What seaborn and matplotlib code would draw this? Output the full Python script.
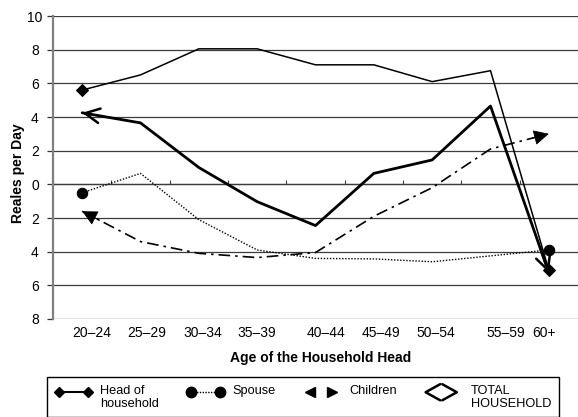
import numpy as np
import pandas as pd
import matplotlib
matplotlib.use("Agg")
import matplotlib.pyplot as plt
import seaborn as sns
from matplotlib.lines import Line2D
from matplotlib.transforms import Affine2D
from matplotlib.legend_handler import HandlerBase, HandlerLine2D

# ---- data ----
ages = ["20–24", "25–29", "30–34", "35–39", "40–44", "45–49", "50–54", "55–59", "60+"]
head = [5.6, 6.5, 8.05, 8.05, 7.1, 7.1, 6.1, 6.75, -5.1]
spouse = [-0.5, 0.65, -2.1, -3.9, -4.4, -4.43, -4.6, -4.25, -3.9]
children = [-1.6, -3.4, -4.1, -4.35, -4.05, -1.9, -0.2, 2.1, 3.0]
total = [4.25, 3.65, 1.0, -1.03, -2.45, 0.65, 1.45, 4.65, -5.25]
y_ticks = [10, 8, 6, 4, 2, 0, -2, -4, -6, -8]
y_tick_labels = ["10", "8", "6", "4", "2", "0", "2", "4", "6", "8"]
legend_labels = ["Head of\nhousehold", "Spouse\n", "Children\n", "TOTAL\nHOUSEHOLD"]

# layout: where the category labels sit (in category units)
label_pos = [0.17, 1.11, 2.06, 3.0, 4.18, 5.13, 6.07, 7.27, 7.92]

sns.set_theme(style="white")
plt.rcParams["font.family"] = ["Liberation Sans", "DejaVu Sans"]
plt.rcParams["text.color"] = "black"
plt.rcParams["axes.labelcolor"] = "black"
plt.rcParams["xtick.color"] = "black"
plt.rcParams["ytick.color"] = "black"

fig = plt.figure(figsize=(5.78, 4.17), dpi=100)
ax = fig.add_axes([53 / 578, 1 - 319 / 417, 525 / 578, 303 / 417])

xpos = np.arange(len(ages))
df = pd.DataFrame({"pos": xpos, "age": ages, "head": head, "spouse": spouse,
                   "children": children, "total": total})
n = len(ages)

sns.lineplot(data=df, x="pos", y="head", ax=ax, color="black", lw=1.1,
             marker="D", markevery=[0, n - 1], ms=6, mec="black", mfc="black",
             errorbar=None, zorder=3)
sns.lineplot(data=df, x="pos", y="spouse", ax=ax, color="black", lw=1.0,
             linestyle=(0, (1, 1.2)), marker="o", markevery=[0, n - 1], ms=7.5,
             mec="black", mfc="black", errorbar=None, zorder=3)
sns.lineplot(data=df, x="pos", y="children", ax=ax, color="black", lw=1.2,
             linestyle=(0, (7, 3, 1.5, 3)), errorbar=None, zorder=3)
sns.lineplot(data=df, x="pos", y="total", ax=ax, color="black", lw=2.0,
             errorbar=None, zorder=3)


def arrowhead(xs, ys, idx, nbr, style, f=0.3, **kw):
    x0, y0 = xs[idx], ys[idx]
    x1, y1 = xs[nbr], ys[nbr]
    ax.annotate("", xy=(x0, y0), xytext=(x0 + f * (x1 - x0), y0 + f * (y1 - y0)),
                arrowprops=dict(arrowstyle=style, shrinkA=0, shrinkB=0, color="black", **kw),
                zorder=4)


tri = "-|>,head_length=0.8,head_width=0.4"
arrowhead(xpos, children, 0, 1, tri, mutation_scale=12, lw=0.6)
arrowhead(xpos, children, n - 1, n - 2, tri, mutation_scale=12, lw=0.6)
opn = "->,head_length=0.7,head_width=0.35"
arrowhead(xpos, total, 0, 1, opn, f=0.15, mutation_scale=15, lw=1.8)
arrowhead(xpos, total, n - 1, n - 2, opn, f=0.15, mutation_scale=15, lw=1.8)

# ---- axes styling ----
ymin, ymax = -8, 10
ax.set_xlim(-0.5, n - 0.5)
ax.set_ylim(ymin, ymax)
ax.set_yticks(y_ticks, labels=y_tick_labels)
plt.setp(ax.get_yticklabels(), ha="center")
ax.tick_params(axis="y", direction="out", length=4, width=0.9, color="#333333",
               pad=9, labelsize=10, left=True)
ax.set_xticks(label_pos, labels=ages)
ax.tick_params(axis="x", length=0, pad=5, labelsize=10)
ax.yaxis.grid(True, color="#3c3c3c", lw=0.9)
ax.xaxis.grid(False)
for s in ["top", "right", "bottom"]:
    ax.spines[s].set_visible(False)
ax.spines["left"].set_color("#808080")
ax.spines["left"].set_linewidth(1.6)

sec = ax.secondary_xaxis((0 - ymin) / (ymax - ymin))
sec.set_xticks(np.arange(n + 1) - 0.5)
sec.tick_params(direction="in", length=3, width=0.8, color="#3c3c3c",
                labelbottom=False, labeltop=False)
sec.spines["bottom"].set_color("#3c3c3c")
sec.spines["bottom"].set_linewidth(0.9)

ax.set_xlabel("Age of the Household Head", fontweight="bold", fontsize=10)
ax.xaxis.set_label_coords(0.51, -0.106)
ax.set_ylabel("Reales per Day", fontweight="bold", fontsize=10)
ax.yaxis.set_label_coords(-0.053, 0.482)

# ---- legend ----
DY = 3.6  # lift the legend symbols toward the first text line (points)


class ShiftedLine(HandlerLine2D):
    def create_artists(self, legend, orig_handle, xdescent, ydescent, width,
                       height, fontsize, trans):
        t = Affine2D().translate(0, DY) + trans
        return super().create_artists(legend, orig_handle, xdescent, ydescent,
                                      width, height, fontsize, t)


class TriHandler(HandlerBase):
    def create_artists(self, legend, orig_handle, xdescent, ydescent, width,
                       height, fontsize, trans):
        y = height / 2 - ydescent + DY
        x0 = -xdescent
        a = Line2D([x0 + 4.5], [y], marker="<", ms=7, color="black", ls="none",
                   transform=trans)
        b = Line2D([x0 + 20], [y], marker=">", ms=7, color="black", ls="none",
                   transform=trans)
        return [a, b]


class ChevronHandler(HandlerBase):
    def create_artists(self, legend, orig_handle, xdescent, ydescent, width,
                       height, fontsize, trans):
        y = height / 2 - ydescent + DY
        x0 = -xdescent
        w, h, gap = 10.5, 5.8, 1.5
        a = Line2D([x0 + w, x0, x0 + w], [y + h, y, y - h], color="black",
                   lw=1.8, transform=trans)
        b = Line2D([x0 + w + gap, x0 + 2 * w + gap, x0 + w + gap], [y + h, y, y - h],
                   color="black", lw=1.8, transform=trans)
        return [a, b]


h_head = Line2D([], [], color="black", lw=1.5, marker="D", ms=5.5)
h_spouse = Line2D([], [], color="black", lw=1.0, ls=(0, (1, 1)), marker="o", ms=7.5)
h_children = Line2D([], [], color="black")
h_total = Line2D([], [], color="black")
leg = fig.legend([h_head, h_spouse, h_children, h_total], legend_labels,
                 handler_map={h_head: ShiftedLine(), h_spouse: ShiftedLine(),
                              h_children: TriHandler(), h_total: ChevronHandler()},
                 ncol=4, loc="upper left",
                 bbox_to_anchor=(47 / 578, 1 - 377 / 417, 512 / 578, 0.0),
                 mode="expand", borderaxespad=0, frameon=True, fancybox=False,
                 edgecolor="black", framealpha=1, handlelength=2.9,
                 handletextpad=0.65, columnspacing=1.5, borderpad=0.6,
                 numpoints=2, fontsize=9.2)
for t in leg.get_texts():
    t.set_linespacing(1.12)
leg.get_frame().set_linewidth(1.0)

fig.savefig("out.png", dpi=100)
